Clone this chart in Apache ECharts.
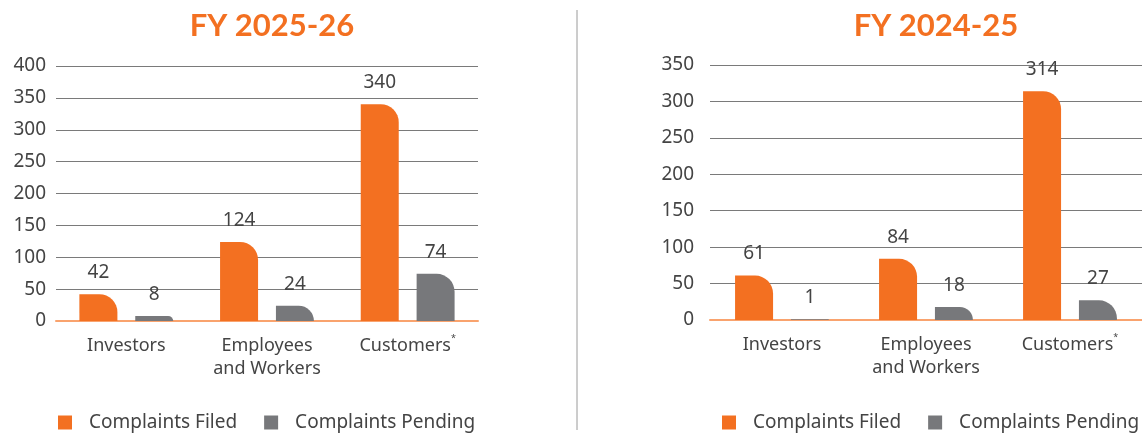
<!DOCTYPE html>
<html>
<head>
<meta charset="utf-8">
<script src="https://cdn.jsdelivr.net/npm/echarts@6/dist/echarts.min.js"></script>
<style>
html, body { margin: 0; padding: 0; background: #fff; }
#chart { width: 1142px; height: 435px; }
</style>
</head>
<body>
<div id="chart"></div>
<script>
// categories and values
var categories = ['Investors', 'Employees\nand Workers', 'Customers*'];
var titles = ['FY 2025-26', 'FY 2024-25'];
var seriesNames = ['Complaints Filed', 'Complaints Pending'];

var filed2526 = [42, 124, 340];
var pending2526 = [8, 24, 74];
var filed2425 = [61, 84, 314];
var pending2425 = [1, 18, 27];

var yMax = [400, 350];

var ORANGE = '#f37021';
var GREY = '#77787b';
var TEXT = '#444';
var FONT = '"Noto Sans", Lato, sans-serif';
var TITLE_FONT = 'Lato, "Noto Sans", sans-serif';

function catLabel(v) {
	if (v.charAt(v.length - 1) == '*') {
		return '{a|' + v.slice(0, -1) + '}{s|*}';
	}
	return '{a|' + v.split('\n').join('}\n{a|') + '}';
}

function makeXAxis(idx) {
	return {
		type: 'category',
		gridIndex: idx,
		data: categories,
		axisTick: { show: false },
		axisLine: { lineStyle: { color: '#f9a36e', width: 2 } },
		axisLabel: {
			margin: 13,
			interval: 0,
			formatter: catLabel,
			rich: {
				a: { fontFamily: FONT, fontSize: 18, color: TEXT, lineHeight: 23 },
				s: { fontFamily: FONT, fontSize: 9, color: TEXT, verticalAlign: 'top', padding: [0, 0, 10, 0] }
			}
		}
	};
}

function makeYAxis(idx, margin) {
	return {
		type: 'value',
		gridIndex: idx,
		min: 0,
		max: yMax[idx],
		interval: 50,
		axisLine: { show: false },
		axisTick: { show: false },
		axisLabel: { margin: margin, fontFamily: FONT, fontSize: 19, color: TEXT },
		splitLine: { lineStyle: { color: '#7a7a7a', width: 1 } }
	};
}

function makeBar(name, data, idx, color) {
	return {
		name: name,
		type: 'bar',
		xAxisIndex: idx,
		yAxisIndex: idx,
		data: data,
		barWidth: 38,
		barGap: '47%',
		itemStyle: { color: color, borderRadius: [0, 18, 0, 0] },
		label: {
			show: true,
			position: 'top',
			distance: 12,
			fontFamily: FONT,
			fontSize: 19,
			color: TEXT
		}
	};
}

function makeLegend(left) {
	return {
		left: left,
		top: 413,
		width: 440,
		padding: 0,
		itemWidth: 14,
		itemHeight: 14,
		itemGap: 27,
		icon: 'rect',
		data: seriesNames,
		textStyle: { fontFamily: FONT, fontSize: 19, color: TEXT, padding: [0, 0, 0, 12] },
		selectedMode: false
	};
}

var myChart = echarts.init(document.getElementById('chart'));

var option = {
	animation: false,
	backgroundColor: '#fff',
	title: [
		{ text: titles[0], left: 267, top: 5, textAlign: 'center',
		  textStyle: { fontFamily: TITLE_FONT, fontSize: 31, fontWeight: 'bold', color: ORANGE } },
		{ text: titles[1], left: 931, top: 5, textAlign: 'center',
		  textStyle: { fontFamily: TITLE_FONT, fontSize: 31, fontWeight: 'bold', color: ORANGE } }
	],
	legend: [makeLegend(58), makeLegend(722)],
	grid: [
		{ left: 56, right: 1142 - 478, top: 66, bottom: 114 },
		{ left: 710, right: 0, top: 65, bottom: 115 }
	],
	xAxis: [makeXAxis(0), makeXAxis(1)],
	yAxis: [makeYAxis(0, 10), makeYAxis(1, 16)],
	series: [
		makeBar(seriesNames[0], filed2526, 0, ORANGE),
		makeBar(seriesNames[1], pending2526, 0, GREY),
		makeBar(seriesNames[0], filed2425, 1, ORANGE),
		makeBar(seriesNames[1], pending2425, 1, GREY)
	],
	graphic: [
		{ type: 'line', shape: { x1: 577, y1: 10, x2: 577, y2: 430 },
		  style: { stroke: '#9a9a9a', lineWidth: 1 } }
	]
};

myChart.setOption(option);
</script>
</body>
</html>
